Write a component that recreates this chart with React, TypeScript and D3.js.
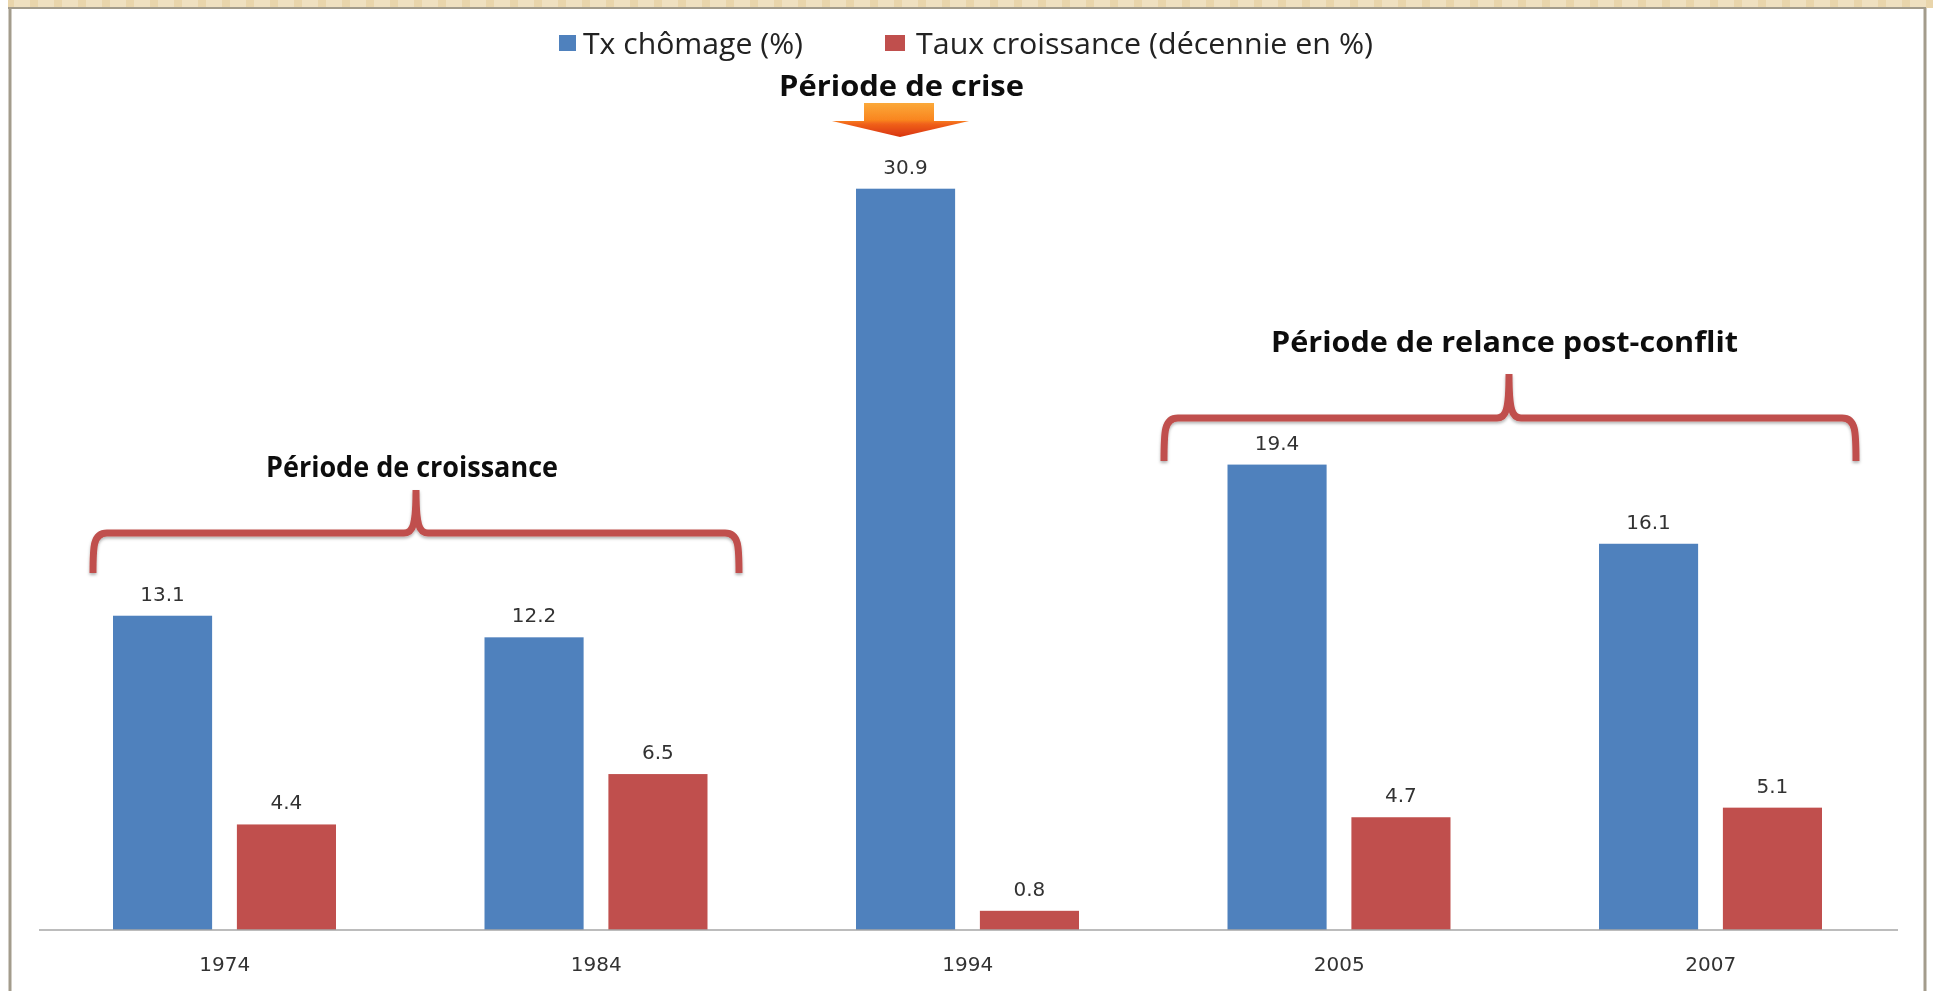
import React from "react";
import * as d3 from "d3";

const years = ["1974", "1984", "1994", "2005", "2007"];
const chomage = [13.1, 12.2, 30.9, 19.4, 16.1];
const croissance = [4.4, 6.5, 0.8, 4.7, 5.1];
const seriesNames = ["Tx chômage (%)", "Taux croissance (décennie en %)"];
const colors = ["#4f81bd", "#c0504d"];

const W = 1933, H = 991;
const baseY = 930;
const x0 = d3.scaleBand<string>().domain(years).range([39, 1896.5]);
const x1 = d3.scaleBand<string>().domain(["a", "b"]).range([74, 297]).paddingInner(0.2);
const y = d3.scaleLinear().domain([0, 30.9]).range([baseY, 188.7]);

const series = [
  { key: "a", values: chomage, color: colors[0] },
  { key: "b", values: croissance, color: colors[1] },
];

function brace(l: number, m: number, r: number, top: number, tip: number, end: number) {
  const p = d3.path();
  p.moveTo(l, end);
  p.bezierCurveTo(l, top + 14, l, top, l + 14, top);
  p.lineTo(m - 12, top);
  p.bezierCurveTo(m - 3, top, m, top - 8, m, tip);
  p.bezierCurveTo(m, top - 8, m + 3, top, m + 12, top);
  p.lineTo(r - 14, top);
  p.bezierCurveTo(r, top, r, top + 14, r, end);
  return p.toString();
}

const braces = [
  { d: brace(93, 416, 739, 533, 490, 573) },
  { d: brace(1164, 1509, 1856, 418, 374, 461) },
];

const BOLD = { fontFamily: "'Open Sans', sans-serif", fontWeight: 700, fontSize: 28, fill: "#111" };
const annotations = [
  { t: "Période de crise", x: 779, y: 96, w: 245 },
  { t: "Période de croissance", x: 266, y: 477, w: 292 },
  { t: "Période de relance post-conflit", x: 1271, y: 352, w: 467 },
];

const LABEL = { fontFamily: "'DejaVu Sans', sans-serif", fontSize: 20, fill: "#333" };

export default function App() {
  return (
    <svg width={W} height={H} style={{ position: "absolute", left: 0, top: 0, display: "block" }}>
      <defs>
        <pattern id="stripe" width="24" height="8" patternUnits="userSpaceOnUse">
          <rect width="24" height="8" fill="#efe0c0" />
          <rect x="6" width="8" height="8" fill="#e9d5ab" />
        </pattern>
        <linearGradient id="arrow" x1="0" y1="0" x2="0" y2="1">
          <stop offset="0" stopColor="#fba93a" />
          <stop offset="0.5" stopColor="#f9851f" />
          <stop offset="0.62" stopColor="#f0601a" />
          <stop offset="1" stopColor="#d8340f" />
        </linearGradient>
        <filter id="shadow" x="-5%" y="-20%" width="110%" height="140%">
          <feDropShadow dx="0" dy="2" stdDeviation="1.5" floodColor="#000" floodOpacity="0.3" />
        </filter>
        <filter id="soft" x="0" y="0" width="100%" height="100%">
          <feGaussianBlur stdDeviation="0.6" />
        </filter>
      </defs>
      <rect width={W} height={H} fill="#fff" />
      <g filter="url(#soft)">
        <rect x={8} y={0} width={W - 8} height={8} fill="url(#stripe)" />
        <line x1={8} x2={1926} y1={8} y2={8} stroke="#a39c8c" strokeWidth={2} />
        <line x1={10} x2={10} y1={8} y2={H} stroke="#a39c8c" strokeWidth={3} />
        <line x1={1925} x2={1925} y1={8} y2={H} stroke="#a39c8c" strokeWidth={3} />

        <rect x={559} y={35} width={17} height={16} fill={colors[0]} />
        <text x={583} y={54} textLength={220} lengthAdjust="spacingAndGlyphs" fontFamily="'Open Sans', sans-serif" fontSize={29} fill="#222">{seriesNames[0]}</text>
        <rect x={885} y={35} width={20} height={16} fill={colors[1]} />
        <text x={916} y={54} textLength={457} lengthAdjust="spacingAndGlyphs" fontFamily="'Open Sans', sans-serif" fontSize={29} fill="#222">{seriesNames[1]}</text>

        {series.map((s) =>
          s.values.map((v, i) => {
            const bx = x0(years[i])! + x1(s.key)!;
            return (
              <g key={s.key + i}>
                <rect x={bx} y={y(v)} width={x1.bandwidth()} height={baseY - y(v)} fill={s.color} />
                <text x={bx + x1.bandwidth() / 2} y={y(v) - 15} textAnchor="middle" {...LABEL}>{v.toFixed(1)}</text>
              </g>
            );
          })
        )}

        <line x1={39} x2={1898} y1={baseY} y2={baseY} stroke="#a6a6a6" strokeWidth={1.5} />
        {years.map((yr) => (
          <text key={yr} x={x0(yr)! + x0.bandwidth() / 2} y={971} textAnchor="middle" {...LABEL}>{yr}</text>
        ))}

        {braces.map((b, i) => (
          <path key={i} d={b.d} fill="none" stroke={colors[1]} strokeWidth={7} strokeLinecap="butt" filter="url(#shadow)" />
        ))}
        {annotations.map((a) => (
          <text key={a.t} x={a.x} y={a.y} textLength={a.w} lengthAdjust="spacingAndGlyphs" {...BOLD}>{a.t}</text>
        ))}
        <path d="M864,103 L934,103 L934,121 L969,121 L900,137 L832,121 L864,121 Z" fill="url(#arrow)" />
      </g>
    </svg>
  );
}
